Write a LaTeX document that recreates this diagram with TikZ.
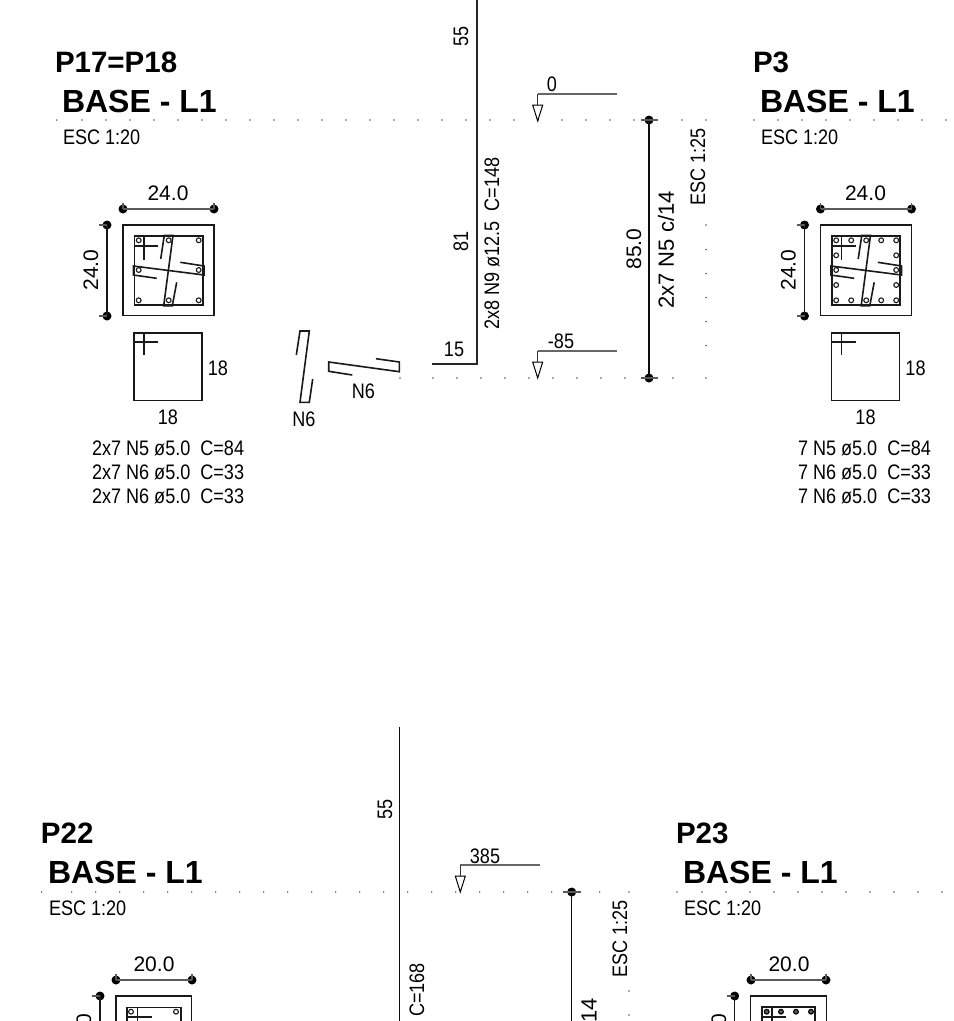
\documentclass[tikz,border=0pt]{standalone}
\usepackage{graphicx}
\usepackage{fontspec}
\setmainfont{Liberation Sans}
\newcommand\nar[1]{\scalebox{.86}[1]{#1}}
\tikzset{
  x=1pt,y=-1pt,
  lbl/.style={inner sep=0pt,outer sep=0pt,font=\fontsize{21}{21}\selectfont,text=black},
  ttl/.style={inner sep=0pt,outer sep=0pt,anchor=west,font=\fontsize{29.5}{30}\selectfont\bfseries},
  ttlb/.style={ttl,font=\fontsize{32}{32}\selectfont\bfseries},
  dotm/.style={circle,fill=black,inner sep=0pt,minimum size=9pt},
  mark dot/.style={fill=black!65,radius=.8},
  dimline/.style={line width=1.3pt,black!65},
  conc/.style={line width=1.5pt,black!90},
  bar/.style={line width=1.6pt,black!90},
  rebarc/.style={line width=1.1pt,draw=black!90,fill=white},
  levline/.style={line width=1.2pt,black!60},
  levtip/.style={line width=1pt,black,fill=white},
}
\newcommand\gridx[2]{\foreach \gx in {#2} \fill[mark dot] (\gx,#1) circle[];}
\newcommand\gridy[2]{\foreach \gy in {#2} \fill[mark dot] (#1,\gy) circle[];}
\newcommand\header[1]{%
  \node[ttl] (title) at (55,62) {#1};
  \node[ttlb] (base) at (62,101) {BASE - L1};
  \node[lbl,anchor=west] (esc) at (63,137) {\nar{ESC 1:20}};
}
\newcommand\stirrups{%
  \draw[bar] (134.3,236) rectangle (202.7,305);
  \draw[bar,fill=none] (134.3,246) -- (158.3,246) (144,236) -- (144,260.3);
  \draw[bar] (160.7,259) -- (164.3,235.3) -- (173,235.3) -- (163.7,305.7) -- (172.3,305.7) -- (176.7,282.3);
  \draw[bar] (156.7,278.3) -- (133.3,275) -- (133.3,266) -- (204,275) -- (204,266) -- (180.3,262.3);
}
\newcommand\sectionbig[3]{%
\begin{scope}[shift={(#1,0)},name prefix=#2-]
  \draw[conc] (123,225) rectangle (214,315.5);
  \stirrups
  \foreach \bx/\by in {#3} \draw[rebarc] (\bx,\by) circle[radius=2.4];
  \node[dotm] (dt1) at (123,209) {};
  \node[dotm] (dt2) at (214,209) {};
  \draw[dimline] (dt1.center) -- (dt2.center);
  \draw[dimline] (123,203) -- (123,209) (214,203) -- (214,209);
  \node[dotm] (dl1) at (107,225) {};
  \node[dotm] (dl2) at (107,316) {};
  \draw[line width=1.4pt,black!90] (dl1.center) -- (dl2.center);
  \draw[dimline] (99,225) -- (107,225) (99,316) -- (107,316);
  \node[lbl] (wd) at (168,193) {24.0};
  \node[lbl,rotate=90] (hd) at (91,270) {24.0};
  \draw[conc,line width=1.3pt] (134,333) rectangle (202,400.5);
  \draw[bar,line width=1.2pt] (134,342) -- (158,342) (144,333) -- (144,355);
  \node[lbl] (s1) at (218,368) {\nar{18}};
  \node[lbl] (s2) at (168,417) {\nar{18}};
\end{scope}}
\begin{document}
\begin{tikzpicture}
\useasboundingbox (0,0) rectangle (954,1021);
\clip (0,0) rectangle (954,1021);

\gridx{120}{56.7,82,106,130,154,178,202,226,250,274,298,322,346,370,394,418,442,466,490,514,538,562,586,610,634,682,706,754,778,802,826,850,874,898,922,946}
\gridx{378}{400,433,457,481,505,529,553,577,601,625,673,706}
\gridy{706}{225,249.5,273.5,297.5,321.5,345.5}

\begin{scope}[name prefix=a-]
  \header{P17=P18}
\end{scope}
\sectionbig{0}{a}{138.7/240.3,168.7/240.3,198.7/240.3,138.7/270,198.7/270,138.7/300.3,168.7/300.3,198.7/300.3}
\node[lbl,anchor=west] (a-l1) at (92,448) {\nar{2x7 N5 ø5.0~~C=84}};
\node[lbl,anchor=west] (a-l2) at (92,472) {\nar{2x7 N6 ø5.0~~C=33}};
\node[lbl,anchor=west] (a-l3) at (92,496) {\nar{2x7 N6 ø5.0~~C=33}};

\draw[bar] (296.3,355) -- (300,331) -- (309.3,331) -- (300,402.3) -- (309.3,402.3) -- (312.7,379);
\draw[bar] (352.3,375) -- (328.7,371.3) -- (328.7,362) -- (399.3,371.7) -- (399.3,362) -- (376,358.7);
\node[lbl] (n6b) at (363.5,391) {\nar{N6}};
\node[lbl] (n6a) at (304,419) {\nar{N6}};

\coordinate (mt) at (477,-2);
\coordinate (mc) at (477,364);
\coordinate (me) at (432,364);
\draw[line width=1.7pt,black!85] (mt) -- (mc) -- (me);
\node[lbl] (l15) at (454,349) {\nar{15}};
\node[lbl,rotate=90] (l81) at (461,241) {\nar{81}};
\node[lbl,rotate=90] (l55) at (461,36) {\nar{55}};
\node[lbl,rotate=90] (lmain) at (492,243.5) {\nar{2x8 N9 ø12.5~~C=148}};

\coordinate (lv0a) at (617,94); \coordinate (lv0b) at (537.7,94); \coordinate (lv0c) at (537.7,105);
\draw[levline] (lv0a) -- (lv0b);
\draw[line width=1.1pt,black!80] (lv0b) -- (lv0c);
\draw[levtip] (532.7,105) -- (542.7,105) -- (537.7,121) -- cycle;
\node[lbl] (t0) at (552,84) {\nar{0}};
\coordinate (lv1a) at (617,351); \coordinate (lv1b) at (537.7,351); \coordinate (lv1c) at (537.7,362);
\draw[levline] (lv1a) -- (lv1b);
\draw[line width=1.1pt,black!80] (lv1b) -- (lv1c);
\draw[levtip] (532.7,362) -- (542.7,362) -- (537.7,378) -- cycle;
\node[lbl] (t85) at (561,341) {\nar{-85}};

\node[dotm] (bt) at (649,120) {};
\node[dotm] (bb) at (649,378) {};
\draw[line width=2.6pt,black!95] (bt.center) -- (bb.center);
\draw[dimline] (641,120) -- (658,120) (641,378) -- (658,378);
\node[lbl,rotate=90] (l850) at (634,249) {85.0};
\node[lbl,rotate=90] (lst) at (666,250) {\fontsize{22}{22}\selectfont 2x7 N5 c/14};
\node[lbl,rotate=90] (e125) at (698,167) {\nar{ESC 1:25}};

\begin{scope}[shift={(698,0)},name prefix=b-]
  \header{P3}
\end{scope}
\sectionbig{697.5}{b}{138.7/240.3,153.7/240.3,168.7/240.3,183.7/240.3,198.7/240.3,138.7/255.3,198.7/255.3,138.7/270,198.7/270,138.7/285,198.7/285,138.7/300.3,153.7/300.3,168.7/300.3,183.7/300.3,198.7/300.3}
\node[lbl,anchor=west] (b-l1) at (798,448) {\nar{7 N5 ø5.0~~C=84}};
\node[lbl,anchor=west] (b-l2) at (798,472) {\nar{7 N6 ø5.0~~C=33}};
\node[lbl,anchor=west] (b-l3) at (798,496) {\nar{7 N6 ø5.0~~C=33}};

\gridx{892}{41.7,71.7,95.7,119.7,143.7,167.7,191.7,215.7,239.7,263.7,287.7,311.7,335.7,359.7,383.7,407.7,431.7,455.7,479.7,503.7,527.7,551.7,599.7,629,677,702,726,750,774,798,822,846,870,894,918,942}
\gridy{629}{991,1015}

\begin{scope}[shift={(-14,771)},name prefix=c-]
  \header{P22}
\end{scope}
\draw[conc] (116,996) rectangle (191.7,1030);
\draw[bar] (126.7,1007.3) rectangle (180.7,1030);
\draw[bar] (126.7,1016.7) -- (151.7,1016.7) (137.3,1007.3) -- (137.3,1030);
\foreach \bx in {131,176} \draw[rebarc] (\bx,1011.7) circle[radius=2.4];
\node[dotm] (c-t1) at (116,980) {};
\node[dotm] (c-t2) at (192,980) {};
\draw[dimline] (c-t1.center) -- (c-t2.center);
\draw[dimline] (116,974) -- (116,980) (192,974) -- (192,980);
\node[dotm] (c-l1) at (100,996) {};
\coordinate (c-l2) at (100,1030);
\draw[line width=1.4pt,black!90] (c-l1.center) -- (c-l2);
\draw[dimline] (92,996) -- (100,996);
\node[lbl] (c-wd) at (154,964) {20.0};
\node[lbl,rotate=90] (c-hd) at (84,1034) {20.0};

\coordinate (nt) at (399.3,727);
\coordinate (nb) at (399.3,1030);
\draw[line width=1.5pt,black!95] (nt) -- (nb);
\node[lbl,rotate=90] (n55) at (385,809) {\nar{55}};
\node[lbl,rotate=90,anchor=east] (n168) at (417,963) {\nar{C=168}};
\coordinate (lv2a) at (540,865); \coordinate (lv2b) at (460.3,865); \coordinate (lv2c) at (460.3,876);
\draw[levline] (lv2a) -- (lv2b);
\draw[line width=1.1pt,black!80] (lv2b) -- (lv2c);
\draw[levtip] (455.3,876) -- (465.3,876) -- (460.3,892) -- cycle;
\node[lbl] (t385) at (485,856) {\nar{385}};

\node[dotm] (ct) at (571.7,892) {};
\coordinate (cb) at (571.7,1030);
\draw[line width=1.5pt,black!95] (ct.center) -- (cb);
\draw[dimline] (563,892) -- (581,892);
\node[lbl,rotate=90,anchor=east] (n14) at (589,998) {\fontsize{22}{22}\selectfont 14};
\node[lbl,rotate=90] (e225) at (620,939) {\nar{ESC 1:25}};

\begin{scope}[shift={(621,771)},name prefix=d-]
  \header{P23}
\end{scope}
\draw[conc] (750.7,996) rectangle (826.3,1030);
\draw[bar] (761.7,1007) rectangle (815,1030);
\draw[bar] (761.7,1017) -- (786,1017) (772,1007) -- (772,1030);
\foreach \bx in {766.7,781,796,811} \draw[line width=1.1pt,draw=black,fill=black!65] (\bx,1011.7) circle[radius=2.4];
\node[dotm] (d-t1) at (751,980) {};
\node[dotm] (d-t2) at (826,980) {};
\draw[dimline] (d-t1.center) -- (d-t2.center);
\draw[dimline] (751,974) -- (751,980) (826,974) -- (826,980);
\node[dotm] (d-l1) at (734.7,996) {};
\coordinate (d-l2) at (734.7,1030);
\draw[line width=1.4pt,black!90] (d-l1.center) -- (d-l2);
\draw[dimline] (727,996) -- (734.7,996);
\node[lbl] (d-wd) at (789,964) {20.0};
\node[lbl,rotate=90] (d-hd) at (719,1034) {20.0};
\end{tikzpicture}
\end{document}
